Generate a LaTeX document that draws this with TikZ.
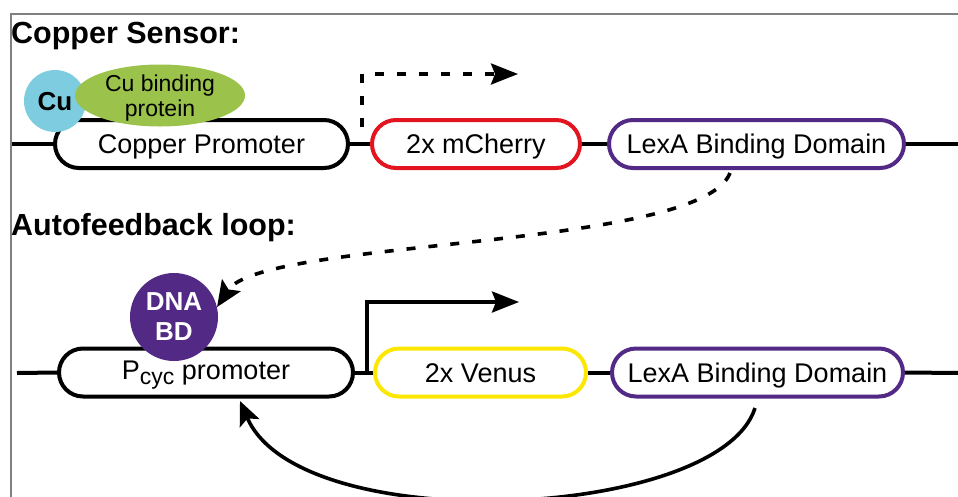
\documentclass[tikz,border=0pt]{standalone}
\usepackage{fontspec}
\setmainfont{Liberation Sans}
\usetikzlibrary{arrows.meta,shapes.geometric,backgrounds}
\definecolor{cublue}{RGB}{126,204,223}
\definecolor{cugreen}{RGB}{155,195,75}
\definecolor{bdpurple}{RGB}{82,42,133}
\definecolor{chred}{RGB}{226,20,31}
\definecolor{vyellow}{RGB}{252,231,0}
\definecolor{framegray}{RGB}{128,128,128}
\begin{document}
\begin{tikzpicture}[x=1pt,y=-1pt,
  part/.style={draw, line width=4pt, fill=white, rounded corners=24pt,
    minimum height=48pt, inner sep=0pt, font=\fontsize{27}{30}\selectfont,
    text height=19.3pt, text depth=0pt},
  backbone/.style={line width=4pt},
  title/.style={anchor=base west, font=\bfseries\fontsize{30.5}{34}\selectfont, inner sep=0pt},
  arr/.style={line width=3.6pt, -{Stealth[length=27pt,width=21pt,inset=4pt]}},
  darr/.style={arr, dash pattern=on 9pt off 13pt},
]
\useasboundingbox (0,0) rectangle (958,496);
\clip (0,0) rectangle (958,496);

% frame
\draw[framegray, line width=1.5pt] (11,497) -- (11,14) -- (959,14);

% titles
\node[title] (t1) at (11,43) {Copper Sensor:};
\node[title] (t2) at (11,235) {Autofeedback loop:};

% top construct
\node[part, minimum width=293pt] (cp) at (201.5,144) {Copper Promoter};
\node[part, draw=chred, minimum width=208pt] (mch) at (476,144) {2x mCherry};
\node[part, draw=bdpurple, minimum width=295pt] (lexa1) at (756.5,144) {LexA Binding Domain};
\coordinate (l1) at (11,144);
\coordinate (r1) at (960,144);

% bottom construct
\node[part, minimum width=294pt, text depth=6.3pt] (pcyc) at (206,372.5)
  {P{\fontsize{23}{23}\selectfont\raisebox{-5pt}{cyc}} promoter};
\node[part, draw=vyellow, minimum width=211pt] (venus) at (480.5,372.5) {2x Venus};
\node[part, draw=bdpurple, minimum width=291pt] (lexa2) at (757.5,372.5) {LexA Binding Domain};
\coordinate (l2) at (17,373);
\coordinate (r2) at (960,373);

\begin{scope}[on background layer]
  \draw[backbone] (l1) -- (cp.west);
  \draw[backbone] (cp.east) -- (mch.west);
  \draw[backbone] (mch.east) -- (lexa1.west);
  \draw[backbone] (lexa1.east) -- (r1);
  \draw[backbone] (l2) -- (pcyc.west);
  \draw[backbone] (pcyc.east) -- (venus.west);
  \draw[backbone] (venus.east) -- (lexa2.west);
  \draw[backbone] (lexa2.east) -- (r2);
\end{scope}

% copper and binding protein
\node[circle, fill=cublue, minimum size=62pt, inner sep=0pt,
  font=\bfseries\fontsize{26}{28}\selectfont, text height=18.6pt, text depth=0pt] (cu) at (55,101) {Cu};
\node[ellipse, fill=cugreen, minimum width=170pt, minimum height=62pt, inner sep=0pt,
  align=center, font=\fontsize{23}{25}\selectfont, text depth=0pt] (cbp) at (160,95.5) {Cu binding\\protein};

% DNA BD
\node[circle, fill=bdpurple, minimum size=88pt, inner sep=0pt, text=white, align=center,
  font=\bfseries\fontsize{26}{30}\selectfont] (dnabd) at (174,317) {DNA\\BD};

% transcription arrows
\coordinate (tss1) at (362,127);
\coordinate (tip1) at (518,74);
\draw[darr] (tss1) |- (tip1);
\coordinate (tss2) at (367,375);
\coordinate (tip2) at (519,302);
\draw[arr] (tss2) |- (tip2);

% LexA -> DNA BD (dashed)
\coordinate (d1) at (730,173);
\draw[darr, -{Stealth[length=26pt,width=22pt,inset=5pt]}] (d1) .. controls (700,250) and (262,238) .. (dnabd.13);

% feedback loop
\coordinate (f1) at (755,408);
\coordinate (f2) at (240,401);
\draw[arr, -{Stealth[length=24pt,width=21pt,inset=5pt]}] (f1) .. controls (720,520) and (300,540) .. (f2);
\end{tikzpicture}
\end{document}
